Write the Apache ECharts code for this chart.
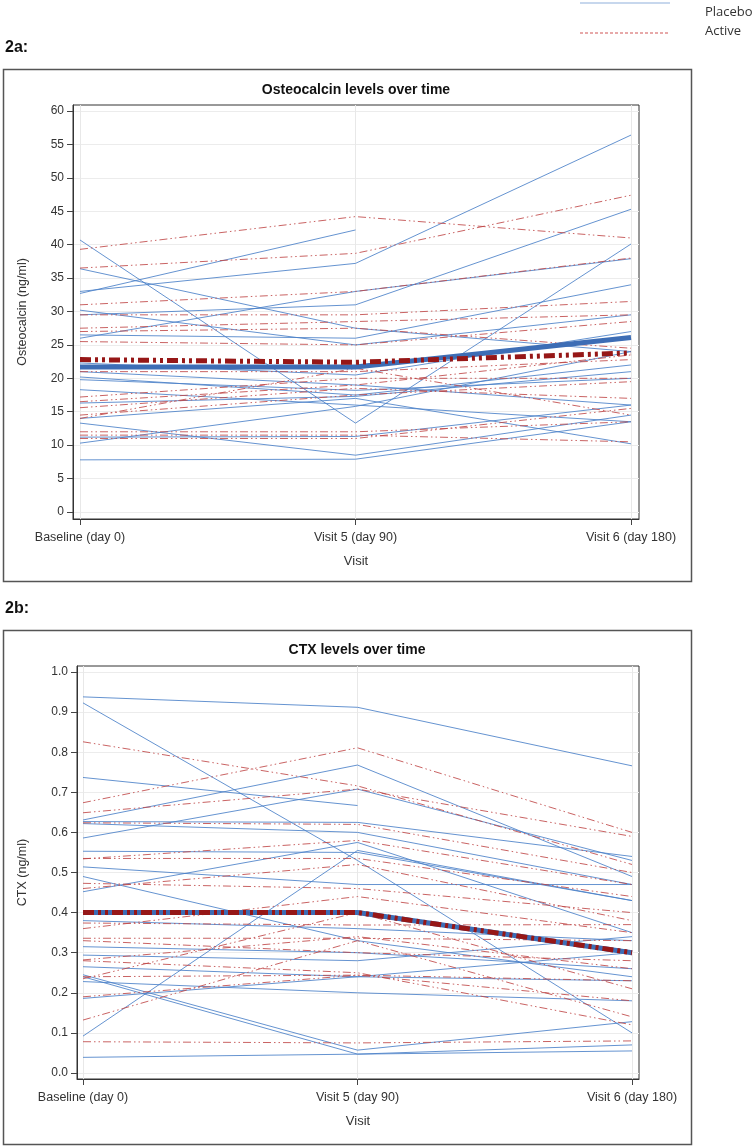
<!DOCTYPE html>
<html><head><meta charset="utf-8">
<script src="https://cdn.jsdelivr.net/npm/echarts@6/dist/echarts.min.js"></script>
<style>html,body{margin:0;padding:0;background:#fff}#c{width:755px;height:1147px}</style>
</head><body><div id="c"></div>
<script>
const visits = ['Baseline (day 0)', 'Visit 5 (day 90)', 'Visit 6 (day 180)'];
const osteoTicks = [0,5,10,15,20,25,30,35,40,45,50,55,60];
const ctxTicks = [0,0.1,0.2,0.3,0.4,0.5,0.6,0.7,0.8,0.9,1.0];

const osteoPlacebo = [
  [40.7, 13.3, 40.1],
  [32.7, 42.2, null],
  [33.0, 37.2, 56.4],
  [26.0, 33.0, 37.9],
  [29.5, 31.0, 45.3],
  [36.4, 27.5, 24.0],
  [30.2, 25.0, 29.5],
  [26.5, 26.0, 34.0],
  [22.3, 20.5, 27.0],
  [21.0, 19.0, 16.0],
  [20.2, 17.5, 22.0],
  [19.8, 18.2, 20.0],
  [18.3, 16.0, 13.5],
  [16.3, 17.3, 21.0],
  [10.3, 15.8, 24.0],
  [14.0, 17.0, 10.2],
  [13.3, 8.5, 14.5],
  [11.2, 11.3, 16.0],
  [7.8, 7.9, 13.5]
];
const osteoActive = [
  [39.3, 44.2, 41.0],
  [36.5, 38.7, 47.4],
  [31.0, 33.0, 38.0],
  [29.5, 29.5, 31.5],
  [27.5, 28.5, 29.5],
  [27.0, 27.5, 24.5],
  [25.5, 25.0, 28.5],
  [21.0, 21.0, 22.8],
  [17.2, 20.0, 20.0],
  [16.5, 19.0, 23.5],
  [15.6, 18.5, 17.0],
  [14.5, 17.5, 19.5],
  [14.0, 21.5, 14.5],
  [12.0, 12.0, 13.5],
  [11.5, 11.5, 10.5],
  [11.0, 11.0, 15.5]
];
const osteoPlaceboMean = [21.7, 21.7, 26.1];
const osteoActiveMean = [22.8, 22.4, 23.8];

const ctxPlacebo = [
  [0.938, 0.912, 0.766],
  [0.923, 0.53, 0.10],
  [0.737, 0.667, null],
  [0.631, 0.768, 0.49],
  [0.586, 0.708, 0.53],
  [0.627, 0.625, 0.54],
  [0.622, 0.60, 0.47],
  [0.553, 0.55, 0.43],
  [0.514, 0.47, 0.47],
  [0.49, 0.33, 0.24],
  [0.452, 0.575, 0.35],
  [0.38, 0.36, 0.33],
  [0.315, 0.30, 0.26],
  [0.294, 0.28, 0.34],
  [0.265, 0.24, 0.23],
  [0.245, 0.057, 0.128],
  [0.24, 0.047, 0.07],
  [0.228, 0.20, 0.18],
  [0.186, 0.24, 0.30],
  [0.092, 0.555, 0.43],
  [0.039, 0.047, 0.055]
];
const ctxActive = [
  [0.826, 0.716, 0.52],
  [0.674, 0.811, 0.60],
  [0.649, 0.708, 0.59],
  [0.624, 0.62, 0.50],
  [0.534, 0.58, 0.47],
  [0.535, 0.535, 0.44],
  [0.473, 0.46, 0.40],
  [0.46, 0.52, 0.38],
  [0.374, 0.369, 0.37],
  [0.36, 0.44, 0.35],
  [0.336, 0.336, 0.33],
  [0.33, 0.30, 0.28],
  [0.282, 0.34, 0.26],
  [0.24, 0.244, 0.23],
  [0.235, 0.40, 0.21],
  [0.19, 0.244, 0.18],
  [0.132, 0.33, 0.14],
  [0.078, 0.075, 0.08],
  [0.28, 0.25, 0.12]
];
const ctxPlaceboMean = [0.40, 0.40, 0.30];
const ctxActiveMean = [0.40, 0.40, 0.30];

const BLUE = 'rgba(74,128,200,0.85)';
const RED = 'rgba(192,72,72,0.85)';
const BLUE_MEAN = '#3d6db5';
const RED_MEAN = '#961717';
const FONT = '"Liberation Sans", Arial, sans-serif';

function pts(arr) { return arr.map((v, i) => [i, v == null ? '-' : v]); }
function subjSeries(list, gi, kind) {
  return list.map(row => ({
    type: 'line', xAxisIndex: gi, yAxisIndex: gi, data: pts(row),
    showSymbol: false, silent: true, connectNulls: false, z: 2,
    lineStyle: kind === 'p'
      ? { color: BLUE, width: 1 }
      : { color: RED, width: 1, type: [8, 3, 1.5, 3, 1.5, 3] }
  }));
}
function meanSeries(vals, gi, kind) {
  return {
    type: 'line', xAxisIndex: gi, yAxisIndex: gi, data: pts(vals),
    showSymbol: false, silent: true, z: kind === 'p' ? 5 : 6,
    lineStyle: kind === 'p'
      ? { color: BLUE_MEAN, width: 5 }
      : { color: RED_MEAN, width: 5, type: [11, 4, 3, 4, 3, 4], cap: 'butt' }
  };
}
function xAxis(gi, min, max) {
  return {
    type: 'value', gridIndex: gi, min: min, max: max,
    name: 'Visit', nameLocation: 'middle', nameGap: 36,
    nameTextStyle: { fontFamily: FONT, fontSize: 13, color: '#333' },
    axisLine: { show: true, onZero: false, lineStyle: { color: '#333' } },
    axisTick: { show: true, length: 6, customValues: [0, 1, 2], lineStyle: { color: '#444' } },
    axisLabel: { customValues: [0, 1, 2], margin: 12, fontFamily: FONT, fontSize: 12.5, color: '#333',
      formatter: v => visits[Math.round(v)] },
    splitLine: { show: true, lineStyle: { color: '#e8e8e8' } }
  };
}
function yAxis(gi, min, max, ticks, name, gap, fmt) {
  return {
    type: 'value', gridIndex: gi, min: min, max: max,
    name: name, nameLocation: 'middle', nameGap: gap,
    nameTextStyle: { fontFamily: FONT, fontSize: 12.5, color: '#333' },
    axisLine: { show: true, onZero: false, lineStyle: { color: '#333' } },
    axisTick: { show: true, length: 6, customValues: ticks, lineStyle: { color: '#444' } },
    axisLabel: { customValues: ticks, margin: 9, fontFamily: FONT, fontSize: 12, color: '#333', formatter: fmt },
    splitLine: { show: true, lineStyle: { color: '#ececec' } }
  };
}

const chart = echarts.init(document.getElementById('c'), null, { renderer: 'canvas' });
chart.setOption({
  animation: false,
  backgroundColor: '#fff',
  grid: [
    { left: 73, top: 105, width: 566, height: 414, show: true, borderColor: '#333', borderWidth: 1, backgroundColor: 'transparent' },
    { left: 77, top: 666, width: 562, height: 413, show: true, borderColor: '#333', borderWidth: 1, backgroundColor: 'transparent' }
  ],
  xAxis: [xAxis(0, -0.0254, 2.029), xAxis(1, -0.0219, 2.0255)],
  yAxis: [
    yAxis(0, -1.05, 60.9, osteoTicks, 'Osteocalcin (ng/ml)', 44, v => String(v)),
    yAxis(1, -0.015, 1.015, ctxTicks, 'CTX (ng/ml)', 48, v => v.toFixed(1))
  ],
  graphic: [
    { type: 'rect', shape: { x: 3.5, y: 69.5, width: 688, height: 512 }, style: { fill: 'none', stroke: '#555', lineWidth: 1.5 } },
    { type: 'rect', shape: { x: 3.5, y: 630.5, width: 688, height: 514 }, style: { fill: 'none', stroke: '#555', lineWidth: 1.5 } },
    { type: 'text', x: 5, y: 48, style: { text: '2a:', font: 'bold 16px ' + FONT, fill: '#111', textVerticalAlign: 'middle' } },
    { type: 'text', x: 5, y: 609, style: { text: '2b:', font: 'bold 16px ' + FONT, fill: '#111', textVerticalAlign: 'middle' } },
    { type: 'text', x: 356, y: 90, style: { text: 'Osteocalcin levels over time', font: 'bold 14px ' + FONT, fill: '#111', textAlign: 'center', textVerticalAlign: 'middle' } },
    { type: 'text', x: 357, y: 650, style: { text: 'CTX levels over time', font: 'bold 14px ' + FONT, fill: '#111', textAlign: 'center', textVerticalAlign: 'middle' } },
    { type: 'line', shape: { x1: 580, y1: 3, x2: 670, y2: 3 }, style: { stroke: '#8fb0dc', lineWidth: 1.2 } },
    { type: 'line', shape: { x1: 580, y1: 33, x2: 670, y2: 33 }, style: { stroke: '#d05555', lineWidth: 1.2, lineDash: [3, 2] } },
    { type: 'text', x: 705, y: 12, style: { text: 'Placebo', font: '13px "Open Sans", ' + FONT, fill: '#333', textVerticalAlign: 'middle' } },
    { type: 'text', x: 705, y: 31, style: { text: 'Active', font: '13px "Open Sans", ' + FONT, fill: '#333', textVerticalAlign: 'middle' } }
  ],
  series: [].concat(
    subjSeries(osteoPlacebo, 0, 'p'),
    subjSeries(osteoActive, 0, 'a'),
    [meanSeries(osteoPlaceboMean, 0, 'p'), meanSeries(osteoActiveMean, 0, 'a')],
    subjSeries(ctxPlacebo, 1, 'p'),
    subjSeries(ctxActive, 1, 'a'),
    [meanSeries(ctxPlaceboMean, 1, 'p'), meanSeries(ctxActiveMean, 1, 'a')]
  )
});
</script></body></html>
